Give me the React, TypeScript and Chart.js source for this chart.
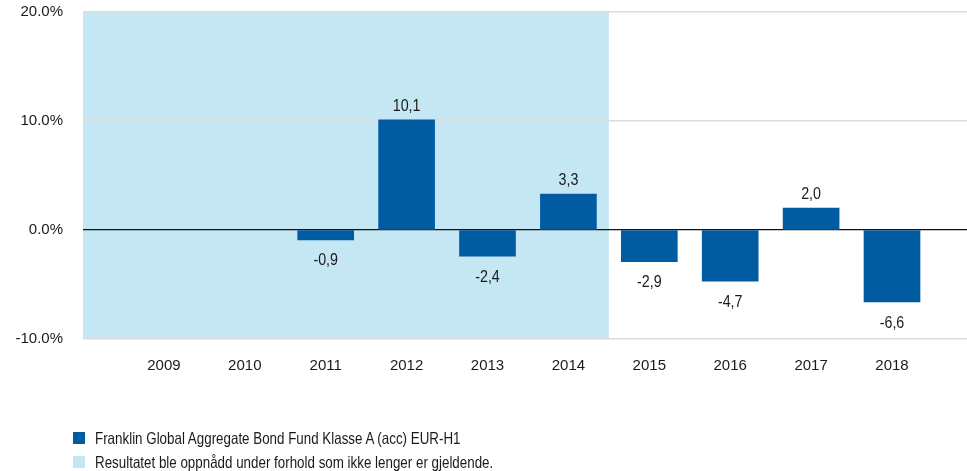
import React, { useEffect, useRef } from "react";
import { Chart, registerables } from "chart.js";

Chart.register(...registerables);

const years = [2009, 2010, 2011, 2012, 2013, 2014, 2015, 2016, 2017, 2018];
const returns: (number | null)[] = [null, null, -0.9, 10.1, -2.4, 3.3, -2.9, -4.7, 2.0, -6.6];
const shadeUntilYear = 2014;
const yTicks = [-10, 0, 10, 20];
const seriesName = "Franklin Global Aggregate Bond Fund Klasse A (acc) EUR-H1";
const shadeName = "Resultatet ble oppnådd under forhold som ikke lenger er gjeldende.";

const BAR = "#005ba1";
const SHADE = "#c5e7f3";
const FONT = "'Liberation Sans', Arial, sans-serif";
const NARROW = 0.84;

export default function App() {
  const ref = useRef<HTMLCanvasElement | null>(null);

  useEffect(() => {
    if (!ref.current) return;
    const shadePlugin = {
      id: "shade",
      beforeDraw(chart: any) {
        const { ctx, chartArea, scales } = chart;
        const xr = scales.x.getPixelForValue(shadeUntilYear + 0.5);
        ctx.save();
        ctx.fillStyle = SHADE;
        ctx.fillRect(chartArea.left, chartArea.top, xr - chartArea.left, chartArea.bottom - chartArea.top);
        ctx.restore();
      },
    };
    const labelPlugin = {
      id: "vals",
      afterDatasetsDraw(chart: any) {
        const { ctx } = chart;
        const meta = chart.getDatasetMeta(0);
        meta.data.forEach((el: any, i: number) => {
          const v = returns[i];
          if (v === null || v === undefined) return;
          const txt = v.toFixed(1).replace(".", ",");
          const y = v >= 0 ? el.y - 14 : el.y + 21;
          ctx.save();
          ctx.font = `17px ${FONT}`;
          ctx.fillStyle = "#1a1a1a";
          ctx.textAlign = "center";
          ctx.textBaseline = "middle";
          ctx.translate(el.x, y);
          ctx.scale(NARROW, 1);
          ctx.fillText(txt, 0, 0);
          ctx.restore();
        });
      },
    };
    const chart = new Chart(ref.current, {
      type: "bar",
      data: {
        datasets: [
          {
            label: seriesName,
            data: years.map((y, i) => ({ x: y, y: returns[i] })) as any,
            backgroundColor: BAR,
            barThickness: 56,
          },
        ],
      },
      options: {
        animation: false,
        responsive: false,
        maintainAspectRatio: false,
        layout: { padding: { top: 12, bottom: 92, left: 0, right: 0 } },
        plugins: { legend: { display: false }, tooltip: { enabled: false } },
        scales: {
          x: {
            type: "linear",
            offset: false,
            min: 2008,
            max: 2018.927,
            grid: { display: false, offset: false },
            border: { display: false },
            afterFit(s: any) {
              s.height = 40;
              s.paddingLeft = 0;
              s.paddingRight = 0;
            },
            afterBuildTicks(s: any) {
              s.ticks = [2008, ...years].map((v) => ({ value: v }));
            },
            ticks: {
              stepSize: 1,
              padding: 10,
              color: "#1a1a1a",
              font: { family: FONT, size: 15 },
              callback: (v: any) => (years.includes(Number(v)) ? String(v) : ""),
              maxRotation: 0,
              autoSkip: false,
            },
          },
          y: {
            min: -10,
            max: 20,
            afterFit(s: any) {
              s.width = 83;
              s.paddingTop = 0;
              s.paddingBottom = 0;
            },
            afterBuildTicks(s: any) {
              s.ticks = yTicks.map((v) => ({ value: v }));
            },
            border: { display: false },
            grid: {
              color: (c: any) => (c.tick && c.tick.value === 0 ? "#111111" : "#dcdcdc"),
              lineWidth: (c: any) => (c.tick && c.tick.value === 0 ? 1.2 : 1.5),
              drawTicks: false,
            },
            ticks: {
              padding: 20,
              color: "#1a1a1a",
              font: { family: FONT, size: 15 },
              callback: (v: any) => Number(v).toFixed(1) + "%",
            },
          },
        },
      },
      plugins: [shadePlugin, labelPlugin],
    });
    return () => chart.destroy();
  }, []);

  const legendRow = (color: string, text: string, top: number) => (
    <div
      style={{
        position: "absolute",
        left: 73,
        top,
        display: "flex",
        alignItems: "center",
        fontFamily: FONT,
        fontSize: 16.5,
        color: "#1a1a1a",
        whiteSpace: "nowrap",
        lineHeight: "20px",
      }}
    >
      <span style={{ display: "inline-block", width: 12, height: 12, background: color, marginRight: 10 }} />
      <span style={{ display: "inline-block", transform: "scaleX(0.81)", transformOrigin: "left center" }}>{text}</span>
    </div>
  );

  return (
    <div style={{ position: "fixed", left: 0, top: 0, width: 967, height: 471, overflow: "hidden", background: "#fff" }}>
      <canvas ref={ref} width={967} height={471} style={{ position: "absolute", left: 0, top: 0, width: 967, height: 471 }} />
      {legendRow(BAR, seriesName, 428)}
      {legendRow(SHADE, shadeName, 452)}
    </div>
  );
}
